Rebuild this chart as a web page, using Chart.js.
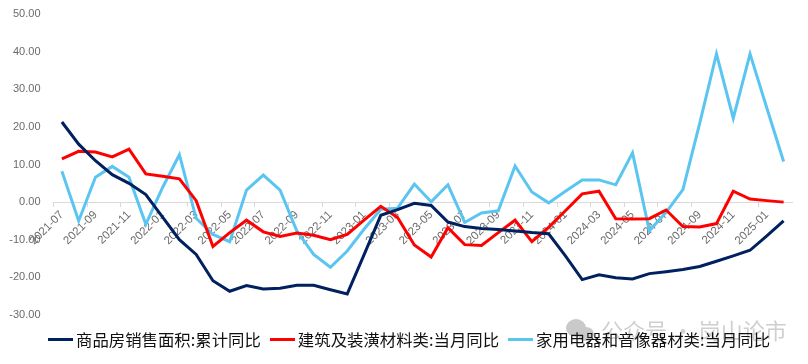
<!DOCTYPE html>
<html><head><meta charset="utf-8">
<script src="https://cdn.jsdelivr.net/npm/chart.js@4/dist/chart.umd.min.js"></script>
<style>html,body{margin:0;padding:0;background:#fff;overflow:hidden}#w{position:relative;width:808px;height:364px}
#c{position:absolute;left:0;top:0}
#lg{position:absolute;left:48px;top:328px;display:flex;align-items:center;height:22px;font:16.4px "Noto Sans CJK SC","Noto Sans",sans-serif;color:#111;white-space:nowrap}
#lg .it{display:flex;align-items:center;margin-right:9px}
#lg i{display:block;width:25px;height:3px;margin-right:3px}
</style>
</head><body><div id="w"><canvas id="c" width="808" height="364"></canvas><div id="lg"></div></div>
<script>
const categories=["2021-07","2021-08","2021-09","2021-10","2021-11","2021-12","2022-01","2022-02","2022-03","2022-04","2022-05","2022-06","2022-07","2022-08","2022-09","2022-10","2022-11","2022-12","2023-01","2023-02","2023-03","2023-04","2023-05","2023-06","2023-07","2023-08","2023-09","2023-10","2023-11","2023-12","2024-01","2024-02","2024-03","2024-04","2024-05","2024-06","2024-07","2024-08","2024-09","2024-10","2024-11","2024-12","2025-01","2025-02"];
const salesArea=[21.3,15.4,11,7.3,5,2,-4,-10,-13.9,-20.9,-23.7,-22.2,-23.1,-22.9,-22.1,-22.1,-23.3,-24.4,-14,-3.5,-2,-0.3,-0.9,-5.3,-6.5,-7,-7.3,-7.7,-8.1,-8.4,-14.3,-20.6,-19.3,-20.1,-20.4,-19,-18.5,-17.9,-17.1,-15.7,-14.3,-12.8,-9,-5];
const buildingMaterials=[11.5,13.5,13.3,12,14.1,7.5,6.9,6.2,0.4,-11.8,-8.1,-4.8,-7.9,-9.1,-8.2,-8.8,-10,-8.6,-4.8,-1.1,-4.1,-11.4,-14.6,-6.8,-11.3,-11.5,-8.1,-4.8,-10.5,-6.7,-2.3,2.2,2.9,-4.4,-4.5,-4.4,-2.1,-6.5,-6.6,-5.7,2.9,0.8,0.4,0];
const appliances=[8.2,-5,6.6,9.5,6.6,-5.9,3.9,12.6,-4.3,-8.6,-10.5,3.2,7.2,3.2,-7.7,-13.9,-17.3,-13,-7.2,-1.9,-1.6,4.8,0.1,4.6,-5.4,-2.9,-2.3,9.6,2.7,-0.2,2.9,5.9,5.9,4.6,13.1,-7.6,-2.7,3.3,20.9,39.4,22.3,39.4,25,10.8];
const seriesNames=["商品房销售面积:累计同比","建筑及装潢材料类:当月同比","家用电器和音像器材类:当月同比"];
const colors=["#002060","#FF0000","#5BC5F2"];
const watermark="公众号 · 岗山论市";
const FONT='"Liberation Sans",Arial,sans-serif';
const CJK='"Noto Sans CJK SC","Noto Sans",sans-serif';
const wm={id:'wm',afterDraw(ch){const x=ch.ctx;x.save();
x.fillStyle='#c9c9c9';
x.beginPath();x.ellipse(576,328,10,9,0,0,Math.PI*2);x.fill();
x.beginPath();x.ellipse(586,334,8,7,0,0,Math.PI*2);x.fill();
x.fillStyle='#cfcfcf';x.font='22px '+CJK;x.textBaseline='middle';x.fillText(watermark,601,331);x.restore();}};
const mk=(label,data,color)=>({label,data,borderColor:color,backgroundColor:color,borderWidth:3,pointRadius:0,tension:0,fill:false,borderCapStyle:'butt',borderJoinStyle:'miter'});
const lg=document.getElementById('lg');
seriesNames.forEach((n,i)=>{const d=document.createElement('div');d.className='it';const s=document.createElement('i');s.style.background=colors[i];const t=document.createElement('span');t.textContent=n;d.append(s,t);lg.append(d);});
new Chart(document.getElementById('c'),{type:'line',plugins:[wm],
data:{labels:categories,datasets:[mk(seriesNames[0],salesArea,colors[0]),mk(seriesNames[1],buildingMaterials,colors[1]),mk(seriesNames[2],appliances,colors[2])]},
options:{responsive:false,animation:false,
layout:{padding:{left:0,right:16,top:14,bottom:49}},
plugins:{tooltip:{enabled:false},legend:{display:false}},
scales:{
x:{type:'category',position:{y:0},offset:true,
border:{color:'#D9D9D9',width:1},
grid:{offset:true,drawOnChartArea:false,drawTicks:true,tickLength:4,tickColor:c=>c.index%2===0?'#D9D9D9':'rgba(0,0,0,0)'},
ticks:{autoSkip:false,maxRotation:45,minRotation:45,color:'#6b6b6b',font:{family:FONT,size:11.5},padding:2,
callback(v,i){return i%2===0?this.getLabelForValue(v):'';}}},
y:{min:-30,max:50,grid:{display:false},border:{display:false},
afterFit(s){s.width=53.5;},
ticks:{stepSize:10,color:'#6b6b6b',font:{family:FONT,size:11},padding:5,callback:v=>v.toFixed(2)}}
}}});
</script></body></html>
